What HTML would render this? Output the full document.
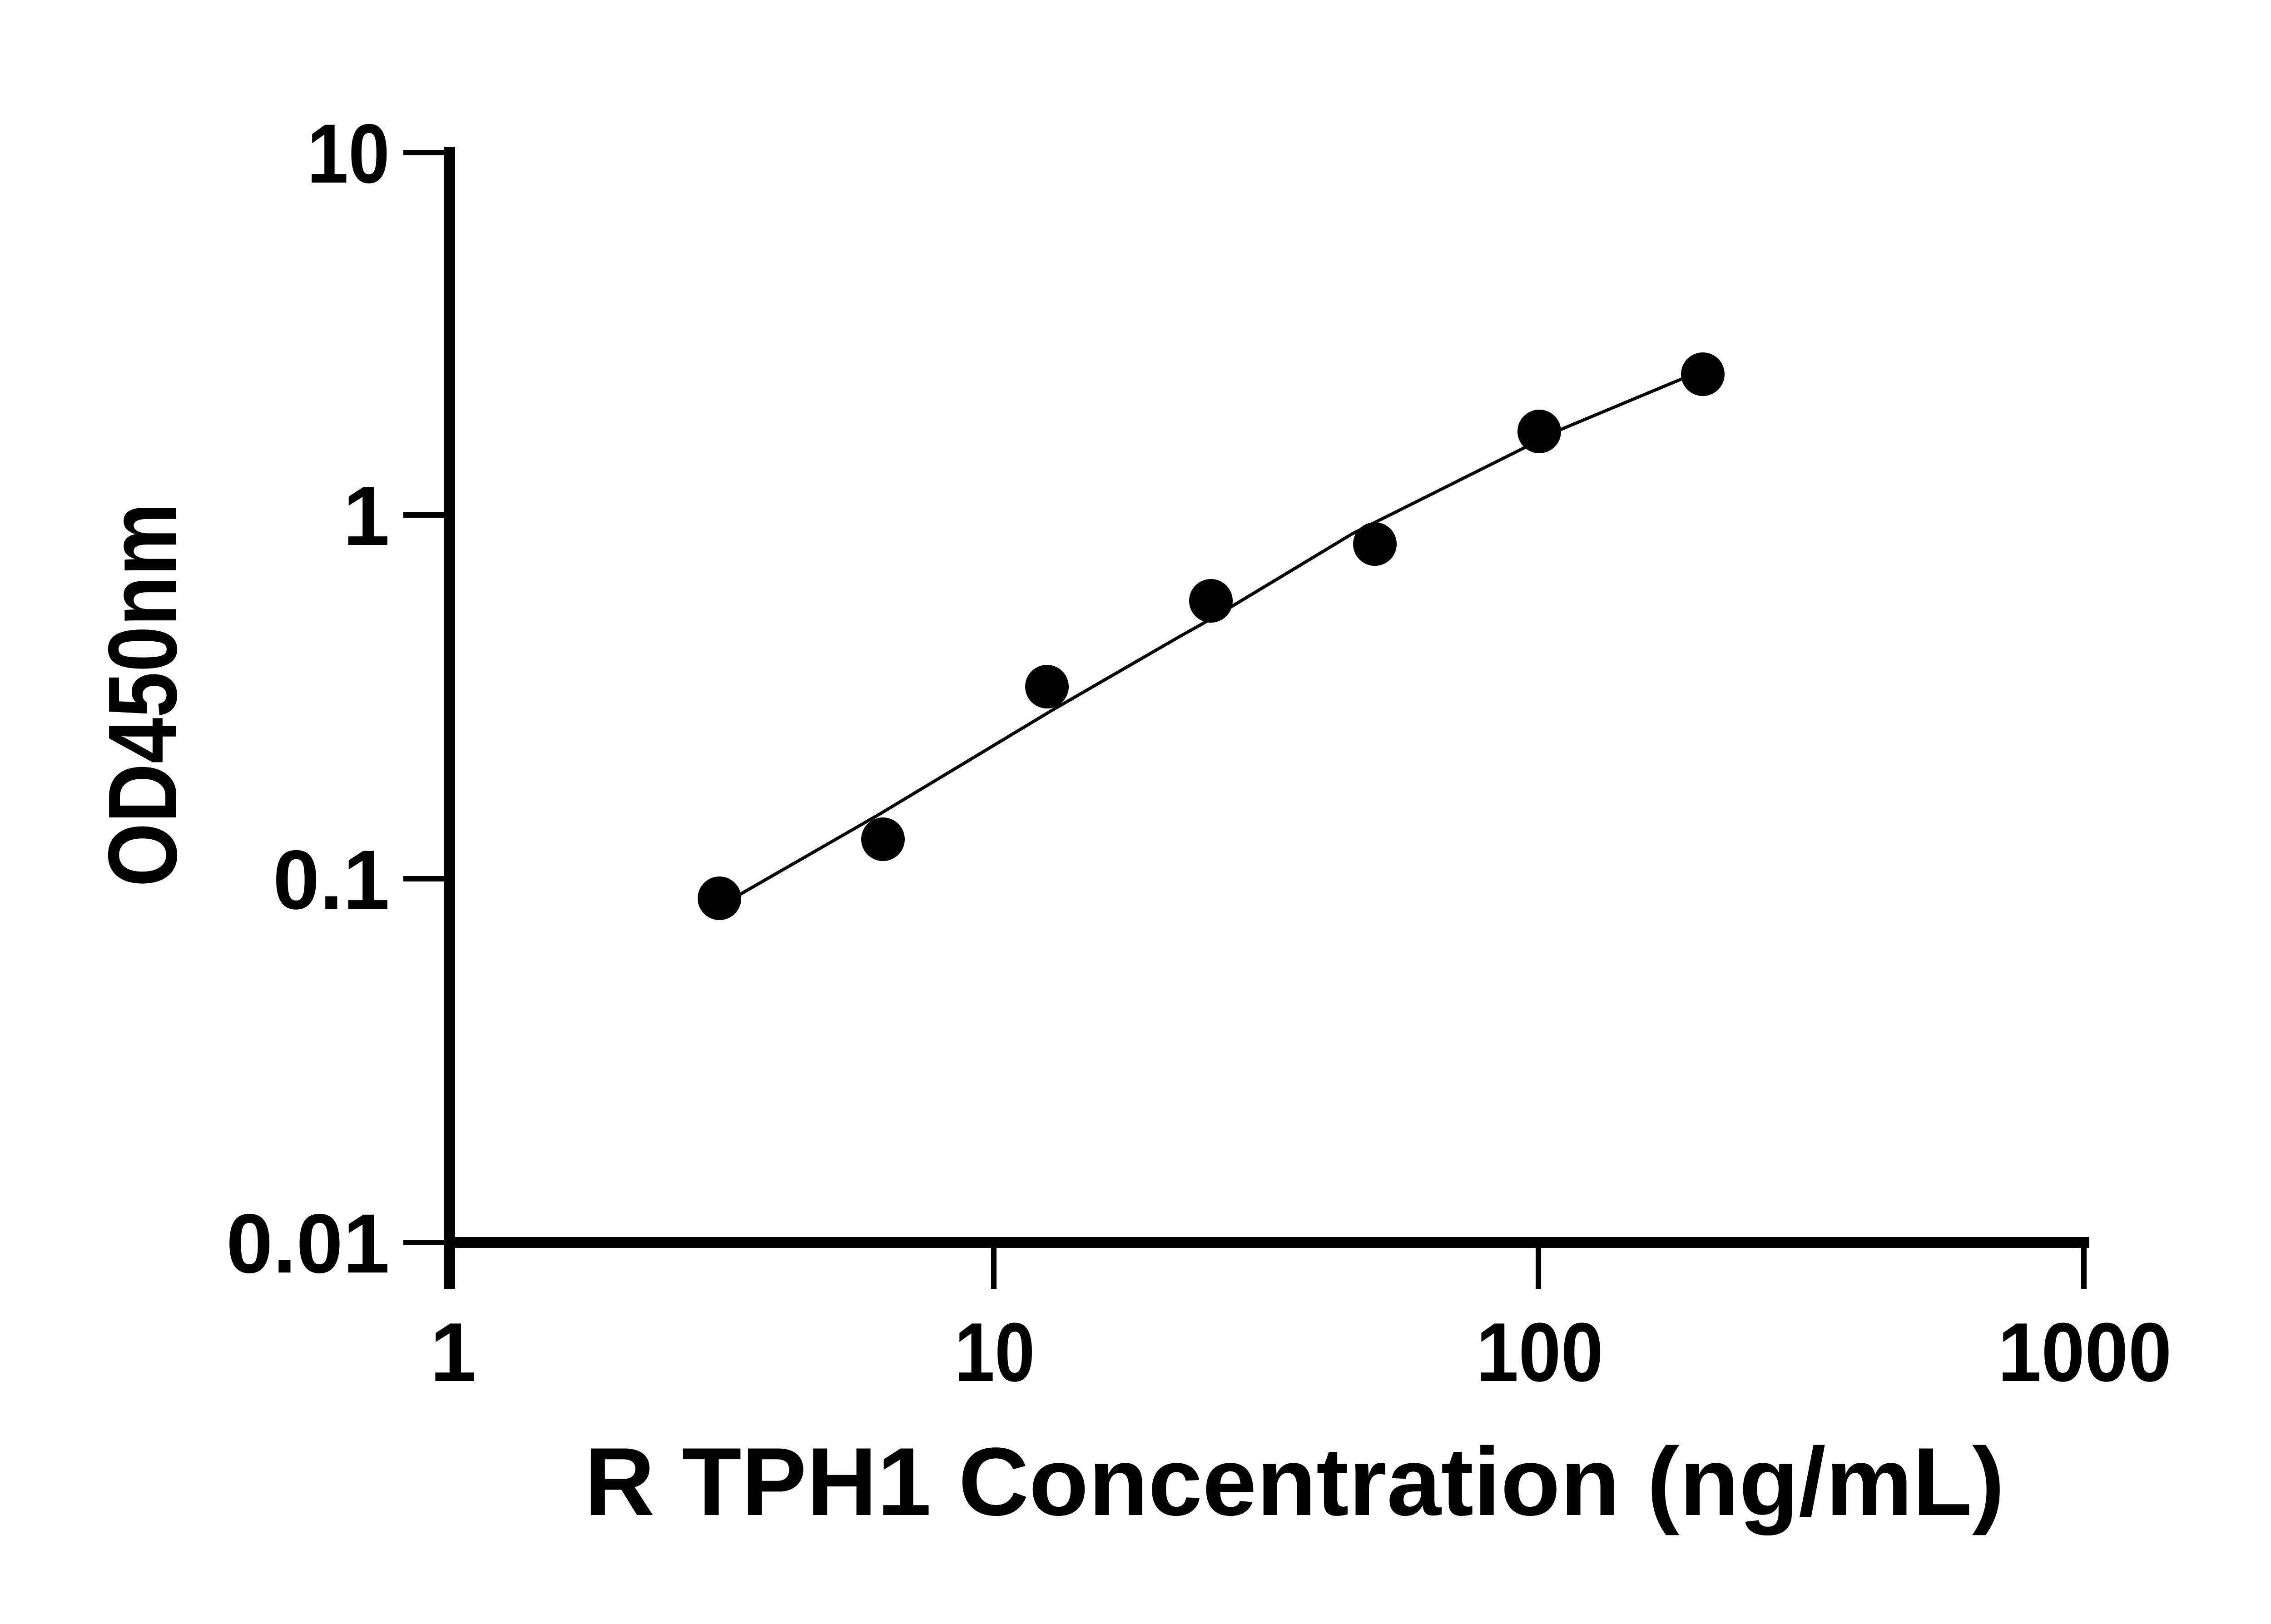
<!DOCTYPE html>
<html><head><style>
html,body{margin:0;padding:0;background:#fff;}
svg{display:block;}
text{font-family:"Liberation Sans",sans-serif;font-weight:bold;fill:#000;}
</style></head><body>
<svg width="5142" height="3576" viewBox="0 0 5142 3576" xmlns="http://www.w3.org/2000/svg">
<g stroke="#000" fill="none">
<line x1="990" y1="324" x2="990" y2="2838" stroke-width="24"/>
<line x1="978" y1="2736" x2="4600" y2="2736" stroke-width="24"/>
<g stroke-width="12">
<line x1="888" y1="336" x2="990" y2="336"/>
<line x1="888" y1="1134" x2="990" y2="1134"/>
<line x1="888" y1="1935" x2="990" y2="1935"/>
<line x1="888" y1="2736" x2="990" y2="2736"/>
<line x1="2188" y1="2736" x2="2188" y2="2838"/>
<line x1="3387" y1="2736" x2="3387" y2="2838"/>
<line x1="4588" y1="2736" x2="4588" y2="2838"/>
</g>
<polyline stroke-width="7" points="1584,1985 1630,1969 1936,1793 2318,1563 2600,1400 2666,1363 2978,1175 3438,945 3706,833 3749,820"/>
</g>
<g fill="#000">
<circle cx="1584" cy="1978" r="48"/>
<circle cx="1944" cy="1848" r="48"/>
<circle cx="2305" cy="1512" r="48"/>
<circle cx="2666" cy="1323" r="48"/>
<circle cx="3027" cy="1198" r="48"/>
<circle cx="3389" cy="950" r="48"/>
<circle cx="3749" cy="824" r="48"/>
</g>
<g font-size="185" text-anchor="end">
<text x="858" y="402" textLength="182" lengthAdjust="spacingAndGlyphs">10</text>
<text x="858" y="1200">1</text>
<text x="858" y="2001">0.1</text>
<text x="858" y="2802">0.01</text>
</g>
<g font-size="184" text-anchor="middle">
<text x="998" y="3041">1</text>
<text x="2190" y="3041" textLength="177" lengthAdjust="spacingAndGlyphs">10</text>
<text x="3390" y="3041" textLength="280" lengthAdjust="spacingAndGlyphs">100</text>
<text x="4590" y="3041" textLength="383" lengthAdjust="spacingAndGlyphs">1000</text>
</g>
<text x="2850" y="3336" font-size="213" text-anchor="middle" textLength="3127" lengthAdjust="spacingAndGlyphs">R TPH1 Concentration (ng/mL)</text>
<text transform="translate(388,1530) rotate(-90)" font-size="215" text-anchor="middle" textLength="846" lengthAdjust="spacingAndGlyphs">OD450nm</text>
</svg>
</body></html>
